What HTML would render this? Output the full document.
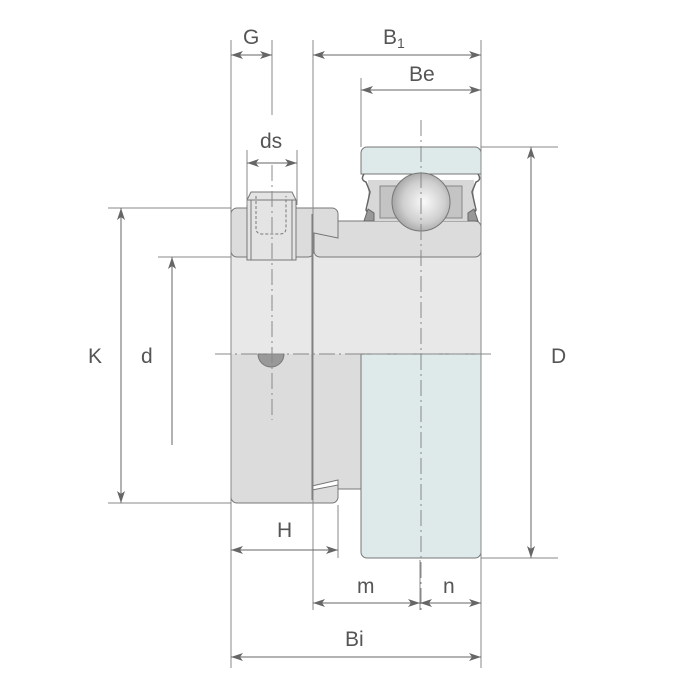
<!DOCTYPE html>
<html><head><meta charset="utf-8"><style>html,body{margin:0;padding:0;background:#fff}svg{display:block}</style></head>
<body>
<svg width="700" height="700" viewBox="0 0 700 700" xmlns="http://www.w3.org/2000/svg" font-family="'Liberation Sans',sans-serif">
<defs>
<marker id="a" viewBox="0 0 12 8" refX="12" refY="4" markerWidth="12" markerHeight="8" markerUnits="userSpaceOnUse" orient="auto-start-reverse"><path d="M0,0 L12,4 L0,8 L3,4 Z" fill="#666"/></marker>
<radialGradient id="ball" cx="0.55" cy="0.5" r="0.6"><stop offset="0" stop-color="#fafafa"/><stop offset="0.6" stop-color="#cfcfcf"/><stop offset="1" stop-color="#9a9a9a"/></radialGradient>
</defs>
<g stroke="#777" stroke-width="1" fill="none">
<rect x="231" y="255" width="250" height="99" fill="#e8e8e8" stroke="none"/>
<path d="M231,354 V497 a6,6 0 0 0 6,6 H332 a6,6 0 0 0 6,-6 V482 L312,486 V354 Z" fill="#dcdcdc" stroke="none"/>
<rect x="312" y="354" width="49" height="135" fill="#dcdcdc" stroke="none"/>
<path d="M231,354 V497 a6,6 0 0 0 6,6 H332 a6,6 0 0 0 6,-6 V480" stroke="#777"/>
<path d="M312,486 L338,480 V485 L312,490" fill="#fff"/>
<path d="M338,489 H361"/>
<path d="M231,250 V354 M312,250 V500 M481,250 V354"/>
<!-- inner ring top -->
<path d="M320,221 H475 a6,6 0 0 1 6,6 V251 a6,6 0 0 1 -6,6 H320 a6,6 0 0 1 -6,-6 V235" fill="#dcdcdc"/>
<!-- upper collar -->
<path d="M237,208 H332 a6,6 0 0 1 6,6 V238 L314,233 V251 a6,6 0 0 1 -6,6 H237 a6,6 0 0 1 -6,-6 V214 a6,6 0 0 1 6,-6 Z" fill="#dcdcdc"/>
<path d="M312,214 V257"/>
<rect x="368" y="180" width="106" height="41" fill="#d8d8d8" stroke="none"/>
<rect x="380" y="186" width="82" height="32" fill="#c4c4c4" stroke="#888"/>
<path d="M368,147 H475 a6,6 0 0 1 6,6 V174 H361 V153 a6,6 0 0 1 6,-6 Z" fill="#dee9e9"/>
<path d="M364,174 q-4,6 2,8 l4,10 -4,18 6,10 M478,174 q4,6 -2,8 l-4,10 4,18 -6,10" stroke="#666" stroke-width="1.5"/>
<path d="M364,221 l4,-12 6,4 v8 Z M478,221 l-4,-12 -6,4 v8 Z" fill="#999" stroke="#666"/>
<circle cx="421" cy="202" r="29" fill="url(#ball)" stroke="#777"/>
<path d="M247,200 l4,-8 H292 l4,8 V260 H247 Z" fill="#e4e4e4"/>
<path d="M251,200 V260 M292,200 V260 M247,200 H296"/>
<path d="M256,196 V228 q0,6 6,6 H280 q6,0 6,-6 V196" stroke-dasharray="3,2"/>
<path d="M258,354 a13,13 0 0 0 26,0 Z" fill="#999"/>
<path d="M361,354 H481 V552 a6,6 0 0 1 -6,6 H367 a6,6 0 0 1 -6,-6 Z" fill="#dee9e9"/>
<g stroke="#888" stroke-dasharray="16,4,2,4">
<path d="M421,120 V610"/><path d="M215,354 H495"/><path d="M272,165 V420"/>
</g>
<g stroke="#888">
<path d="M231,40 V668 M272,40 V115 M313,40 V610 M481,40 V668 M361,78 V147 M247,150 V205 M297,150 V205"/>
<path d="M108,208 H231 M158,257 H231 M108,503 H231 M481,147 H558 M481,558 H558 M420,560 V610 M338,505 V558"/>
</g>
<g stroke="#666" marker-start="url(#a)" marker-end="url(#a)">
<path d="M231,55 H272"/><path d="M313,55 H481"/><path d="M361,90 H481"/><path d="M247,163 H297"/>
<path d="M121,208 V503"/><path d="M531,147 V558"/>
<path d="M231,550 H338"/><path d="M313,603 H420"/><path d="M420,603 H481"/><path d="M231,657 H481"/>
</g>
<path d="M172,445 V257" stroke="#666" marker-end="url(#a)"/>
</g>
<g fill="#555" font-size="21">
<text x="243" y="44">G</text>
<text x="383" y="44">B<tspan font-size="14" dy="4">1</tspan></text>
<text x="409" y="81">Be</text>
<text x="260" y="148">ds</text>
<text x="88" y="363">K</text>
<text x="141" y="363">d</text>
<text x="551" y="363">D</text>
<text x="277" y="537">H</text>
<text x="357" y="593">m</text>
<text x="443" y="593">n</text>
<text x="345" y="646">Bi</text>
</g>
</svg>
</body></html>
